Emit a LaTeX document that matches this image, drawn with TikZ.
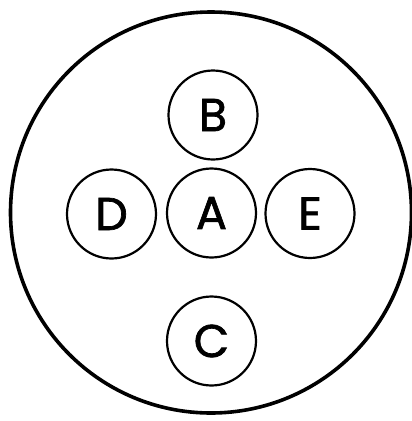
\documentclass[tikz,border=0pt]{standalone}
\usepackage{fontspec}
\setmainfont{Poppins}
\newfontfamily\labelfont[FakeBold=1.5]{Poppins}
\begin{document}
\begin{tikzpicture}[x=1pt,y=-1pt]
\tikzset{
  ring/.style={circle,draw,line width=2.2pt,minimum size=89pt,inner sep=0pt,
    font=\labelfont\fontsize{46}{46}\selectfont},
  outerring/.style={circle,draw,line width=3.6pt,minimum size=401pt,inner sep=0pt}
}
\useasboundingbox (0,0) rectangle (412,421);
\node[outerring] (outer) at (211,212.5) {};
\node[ring] (A) at (211.5,213) {A};
\node[ring] (B) at (213,115) {B};
\node[ring] (C) at (211.5,341) {C};
\node[ring] (D) at (111.5,214) {D};
\node[ring] (E) at (310,213.5) {E};
\end{tikzpicture}
\end{document}
